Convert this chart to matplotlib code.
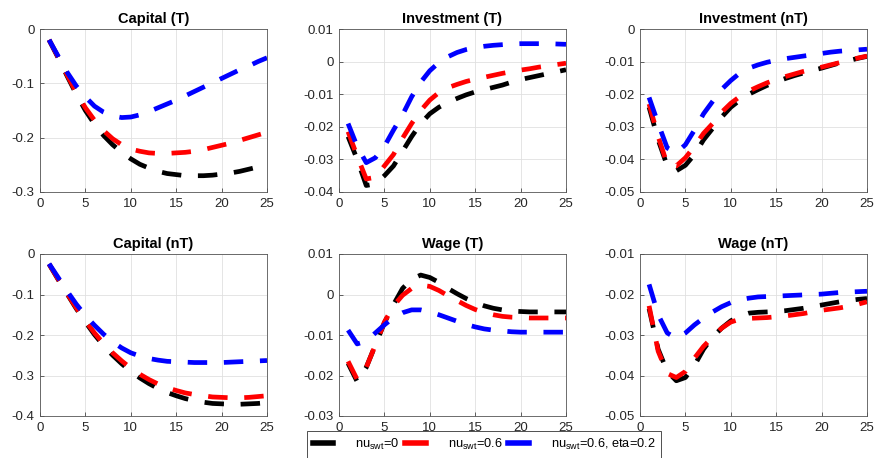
import matplotlib
matplotlib.use('Agg')
import matplotlib.pyplot as plt
from matplotlib.lines import Line2D
from matplotlib.ticker import FuncFormatter, MultipleLocator

plt.rcParams['font.family'] = ['Liberation Sans', 'DejaVu Sans']
plt.rcParams['axes.unicode_minus'] = False
plt.rcParams['mathtext.default'] = 'regular'
plt.rcParams['lines.scale_dashes'] = False

periods = list(range(1, 26))

# Capital (T)
cap_T_k = [-0.020, -0.053, -0.087, -0.120, -0.150, -0.175, -0.196, -0.213, -0.227, -0.239, -0.249, -0.256, -0.262,
           -0.266, -0.268, -0.270, -0.270, -0.270, -0.269, -0.267, -0.265, -0.262, -0.258, -0.254, -0.250]
cap_T_r = [-0.020, -0.052, -0.085, -0.117, -0.145, -0.168, -0.187, -0.202, -0.213, -0.221, -0.225, -0.228, -0.229,
           -0.229, -0.228, -0.227, -0.225, -0.222, -0.218, -0.214, -0.210, -0.205, -0.200, -0.195, -0.190]
cap_T_b = [-0.020, -0.050, -0.080, -0.105, -0.125, -0.142, -0.153, -0.160, -0.163, -0.162, -0.158, -0.152, -0.145,
           -0.138, -0.131, -0.123, -0.115, -0.107, -0.099, -0.091, -0.083, -0.075, -0.068, -0.060, -0.053]

# Investment (T)
inv_T_k = [-0.0230, -0.0300, -0.0380, -0.0375, -0.0350, -0.0320, -0.0275, -0.0230, -0.0190, -0.0160, -0.0140,
           -0.0125, -0.0113, -0.0102, -0.0093, -0.0086, -0.0079, -0.0072, -0.0063, -0.0055, -0.0049, -0.0043,
           -0.0037, -0.0031, -0.0025]
inv_T_r = [-0.0215, -0.0290, -0.0360, -0.0355, -0.0320, -0.0285, -0.0235, -0.0190, -0.0150, -0.0118, -0.0095,
           -0.0080, -0.0070, -0.0061, -0.0054, -0.0048, -0.0042, -0.0036, -0.0031, -0.0026, -0.0022, -0.0017,
           -0.0013, -0.0009, -0.0005]
inv_T_b = [-0.0190, -0.0260, -0.0310, -0.0295, -0.0260, -0.0210, -0.0163, -0.0108, -0.0063, -0.0028, -0.0003,
           0.0015, 0.0028, 0.0037, 0.0043, 0.0047, 0.0050, 0.0052, 0.0054, 0.0055, 0.0055, 0.0055, 0.0055,
           0.0054, 0.0053]

# Investment (nT)
inv_nT_k = [-0.0240, -0.0340, -0.0420, -0.0435, -0.0418, -0.0385, -0.0340, -0.0305, -0.0270, -0.0240, -0.0218,
            -0.0200, -0.0186, -0.0173, -0.0162, -0.0152, -0.0143, -0.0135, -0.0127, -0.0120, -0.0112, -0.0104,
            -0.0097, -0.0090, -0.0084]
inv_nT_r = [-0.0230, -0.0330, -0.0415, -0.0420, -0.0395, -0.0360, -0.0320, -0.0290, -0.0255, -0.0228, -0.0207,
            -0.0190, -0.0177, -0.0165, -0.0155, -0.0146, -0.0138, -0.0130, -0.0123, -0.0117, -0.0110, -0.0103,
            -0.0096, -0.0089, -0.0083]
inv_nT_b = [-0.0210, -0.0290, -0.0365, -0.0380, -0.0355, -0.0310, -0.0260, -0.0222, -0.0185, -0.0158, -0.0135,
            -0.0120, -0.0110, -0.0102, -0.0096, -0.0091, -0.0087, -0.0083, -0.0079, -0.0075, -0.0071, -0.0068,
            -0.0066, -0.0064, -0.0062]

# Capital (nT)
cap_nT_k = [-0.025, -0.063, -0.099, -0.135, -0.168, -0.199, -0.226, -0.250, -0.271, -0.290, -0.306, -0.320, -0.332,
            -0.342, -0.350, -0.357, -0.362, -0.366, -0.369, -0.370, -0.371, -0.371, -0.370, -0.369, -0.367]
cap_nT_r = [-0.025, -0.062, -0.098, -0.133, -0.165, -0.195, -0.221, -0.244, -0.264, -0.282, -0.297, -0.310, -0.321,
            -0.330, -0.337, -0.343, -0.347, -0.350, -0.353, -0.354, -0.355, -0.355, -0.354, -0.352, -0.350]
cap_nT_b = [-0.024, -0.058, -0.092, -0.124, -0.152, -0.176, -0.198, -0.217, -0.232, -0.244, -0.252, -0.258, -0.262,
            -0.265, -0.266, -0.267, -0.268, -0.268, -0.268, -0.268, -0.267, -0.266, -0.265, -0.264, -0.263]

# Wage (T)
wage_T_k = [-0.0170, -0.0215, -0.0180, -0.0125, -0.0070, -0.0025, 0.0015, 0.0038, 0.0048, 0.0042, 0.0030, 0.0015,
            0.0002, -0.0010, -0.0020, -0.0028, -0.0034, -0.0038, -0.0041, -0.0042, -0.0043, -0.0043, -0.0043,
            -0.0043, -0.0043]
wage_T_r = [-0.0165, -0.0210, -0.0180, -0.0125, -0.0068, -0.0028, -0.0002, 0.0015, 0.0023, 0.0020, 0.0010,
            -0.0003, -0.0015, -0.0027, -0.0037, -0.0045, -0.0050, -0.0054, -0.0056, -0.0057, -0.0058, -0.0058,
            -0.0058, -0.0058, -0.0058]
wage_T_b = [-0.0088, -0.0122, -0.0115, -0.0095, -0.0075, -0.0057, -0.0045, -0.0038, -0.0038, -0.0043, -0.0050,
            -0.0058, -0.0066, -0.0074, -0.0080, -0.0085, -0.0088, -0.0090, -0.0092, -0.0093, -0.0093, -0.0093,
            -0.0093, -0.0093, -0.0093]

# Wage (nT)
wage_nT_k = [-0.0235, -0.0335, -0.0390, -0.0413, -0.0405, -0.0375, -0.0335, -0.0305, -0.0283, -0.0265, -0.0253,
             -0.0246, -0.0244, -0.0243, -0.0242, -0.0240, -0.0237, -0.0234, -0.0230, -0.0226, -0.0222, -0.0218,
             -0.0215, -0.0212, -0.0210]
wage_nT_r = [-0.0228, -0.0340, -0.0395, -0.0405, -0.0390, -0.0357, -0.0328, -0.0305, -0.0283, -0.0268, -0.0261,
             -0.0259, -0.0258, -0.0257, -0.0255, -0.0253, -0.0250, -0.0247, -0.0243, -0.0239, -0.0236, -0.0233,
             -0.0229, -0.0224, -0.0218]
wage_nT_b = [-0.0175, -0.0250, -0.0295, -0.0308, -0.0295, -0.0275, -0.0258, -0.0243, -0.0230, -0.0220, -0.0213,
             -0.0209, -0.0206, -0.0205, -0.0204, -0.0203, -0.0202, -0.0201, -0.0200, -0.0199, -0.0197, -0.0195,
             -0.0194, -0.0193, -0.0192]

titles = ['Capital (T)', 'Investment (T)', 'Investment (nT)', 'Capital (nT)', 'Wage (T)', 'Wage (nT)']
series = [(cap_T_k, cap_T_r, cap_T_b), (inv_T_k, inv_T_r, inv_T_b), (inv_nT_k, inv_nT_r, inv_nT_b),
          (cap_nT_k, cap_nT_r, cap_nT_b), (wage_T_k, wage_T_r, wage_T_b), (wage_nT_k, wage_nT_r, wage_nT_b)]
ylims = [(-0.3, 0), (-0.04, 0.01), (-0.05, 0), (-0.4, 0), (-0.03, 0.01), (-0.05, -0.01)]
ysteps = [0.1, 0.01, 0.01, 0.1, 0.01, 0.01]
labels = ['nu$_{swt}$=0', 'nu$_{swt}$=0.6', 'nu$_{swt}$=0.6, eta=0.2']
colors = ['k', 'r', 'b']

W, H = 874, 458
fig = plt.figure(figsize=(W / 100, H / 100), dpi=100)

lefts = [40, 339, 640]
rows = [(29, 192), (254, 416)]
axw = 227


def fmt(v, pos):
    return '%g' % (round(v, 4) + 0.0)


for i, title in enumerate(titles):
    top, bot = rows[i // 3]
    ax = fig.add_axes([lefts[i % 3] / W, 1 - bot / H, axw / W, (bot - top) / H])
    for vals, c in zip(series[i], colors):
        ax.plot(periods, vals, color=c, lw=3.4, ls=(0, (14, 12)), dash_capstyle='butt')
    ax.set_xlim(0, 25)
    ax.set_ylim(*ylims[i])
    ax.xaxis.set_major_locator(MultipleLocator(5))
    ax.yaxis.set_major_locator(MultipleLocator(ysteps[i]))
    ax.yaxis.set_major_formatter(FuncFormatter(fmt))
    ax.grid(True, color='#e0e0e0', lw=0.6)
    ax.set_axisbelow(True)
    ax.tick_params(direction='in', length=3, width=0.5, labelsize=9.5, colors='#262626', pad=4)
    for s in ax.spines.values():
        s.set_color('#555555')
        s.set_linewidth(0.6)
    ax.set_title(title, fontsize=10.5, fontweight='bold', pad=4)

handles = [Line2D([], [], color=c, lw=4) for c in colors]
leg = fig.legend(handles, labels, loc='upper left', bbox_to_anchor=(307 / W, 1 - 431 / H), ncol=3,
                 fontsize=9.2, handlelength=1.6, handletextpad=1.72, columnspacing=0.47, borderaxespad=0,
                 fancybox=False, framealpha=1, edgecolor='#333333', borderpad=0.45)
leg.get_frame().set_linewidth(0.6)

fig.savefig('out.png', dpi=100)
